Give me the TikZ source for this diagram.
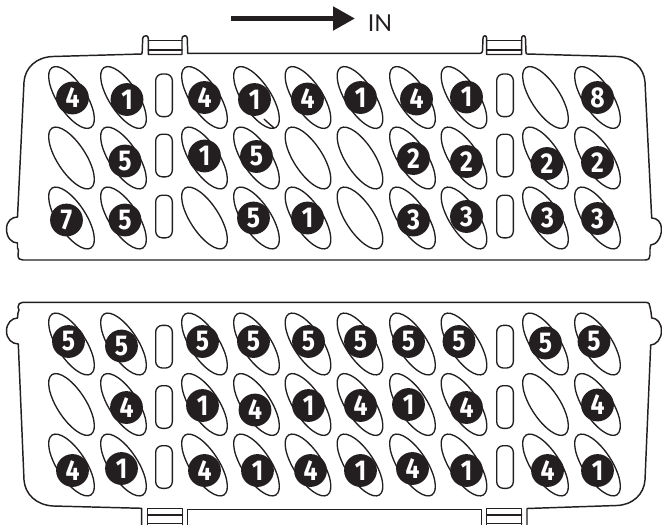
\documentclass[tikz,border=0pt]{standalone}
\usepackage{fontspec}
\setmainfont{Lato}
\newfontfamily\digitfont[FakeStretch=0.86]{Fira Sans}
\usetikzlibrary{shapes.geometric,arrows.meta}
\definecolor{ink}{HTML}{231F20}
\tikzset{
  outline/.style={draw=ink,line width=1.1pt,line join=round,line cap=round},
  hole/.style={shape=ellipse,draw=ink,line width=1pt,inner sep=0pt,minimum width=53.5pt,minimum height=21.5pt,rotate=-57},
  slot/.style={draw=ink,line width=1pt,rounded corners=5pt,inner sep=0pt,minimum width=12.5pt,minimum height=32pt},
  disc/.style={shape=circle,fill=ink,inner sep=0pt,minimum size=24.6pt,text=white,font=\digitfont\bfseries\fontsize{21.5}{22}\selectfont},
}
\begin{document}
\begin{tikzpicture}[x=.75pt,y=-.75pt]
\useasboundingbox (0,0) rectangle (662,525);
% panel outlines
\draw[outline] (141.7,54) -- (53,56.5) .. controls (36,57) and (25,68) .. (24,82) -- (17.5,217)
  .. controls (12,217) and (6.5,221) .. (6.5,229) .. controls (6.5,238) and (12,243) .. (17.5,243)
  -- (17.5,248) -- (18.5,250) -- (18,255) .. controls (18,259) and (20,260) .. (23,260)
  -- (645,260) .. controls (649,260) and (650,258) .. (650,255) -- (650,249) -- (650.7,245)
  .. controls (656,245) and (661.5,238) .. (661.5,229) .. controls (661.5,222) and (657,218) .. (651.7,218)
  -- (645,82) .. controls (644,68) and (633,57) .. (616.7,56.5) -- (527,54)
  .. controls (526.2,54) and (526,53) .. (526,52) -- (525.5,38.5) .. controls (525.5,36.5) and (524.5,35.7) .. (523.5,35.7)
  .. controls (522,35.7) and (521.7,37) .. (521.7,38.5) -- (521.7,54.5) -- (486.7,54.5) -- (486.7,38.5)
  .. controls (486.7,37) and (486,35.7) .. (485,35.7) .. controls (483.5,35.7) and (483,37) .. (483,38.5)
  -- (482.5,51) .. controls (482.5,53) and (481,53.3) .. (480,53.3) -- (187.7,53.3)
  -- (187.3,38.5) .. controls (187.3,36.5) and (186,35.7) .. (185,35.7) .. controls (183,35.7) and (182,37) .. (182,38.5)
  -- (182,54.5) -- (148.3,54.5) -- (148.3,38.5) .. controls (148.3,37) and (147.5,35.7) .. (146,35.7)
  .. controls (144,35.7) and (142.7,37) .. (142.7,38.5) -- (142.2,52) -- cycle;
\draw[outline] (148.3,40.5) -- (182,40.5) (148.3,50) -- (182,50);
\draw[outline] (486.7,40.5) -- (521.7,40.5) (486.7,50) -- (521.7,50);
\draw[outline] (141.7,525) -- (141.7,508.3) -- (53,506) .. controls (36,505) and (25,494) .. (24,480) -- (18.3,344)
  .. controls (12,344) and (6.5,339) .. (6.5,331) .. controls (6.5,323) and (12,318) .. (17.5,318)
  -- (18,313) -- (19,310) -- (18,307) .. controls (18,304) and (20,302.3) .. (23,302.3)
  -- (645,302.3) .. controls (649,302.3) and (650,304) .. (650,307) -- (651,312) -- (651.7,318)
  .. controls (657,318) and (661.5,323) .. (661.5,331) .. controls (661.5,339) and (656,345) .. (650.7,345)
  -- (645,480) .. controls (644,494) and (633,505) .. (616.7,505.5) -- (527,508.5) -- (527,525);
\draw[outline] (147.7,525) -- (147.7,508.3) -- (182.3,508.3) -- (182.3,525);
\draw[outline] (187.3,525) -- (187.3,509.3) -- (481.7,509.3) -- (481.7,525);
\draw[outline] (486.7,525) -- (486.7,508.3) -- (521.7,508.3) -- (521.7,525);
\draw[outline] (147.7,515) -- (182.3,515) (147.7,523.5) -- (182.3,523.5);
\draw[outline] (486.7,515) -- (521.7,515) (486.7,523.5) -- (521.7,523.5);
% holes
\foreach \hx [count=\i] in {71.5,123.5,204.5,256.5,308,360,412.5,464,545.5,597.5}
  \foreach \hy [count=\j] in {97.5,158,218,344,404.5,465}
    \node[hole] (hole-\i-\j) at (\hx,\hy) {};
% overshoot of the outline of one hole
\draw[outline,line width=1pt] (264,119) .. controls (268,123) and (272,126) .. (273.5,127.5) -- (272.5,128.5);
% slots
\foreach \sx [count=\i] in {164,505}
  \foreach \sy [count=\j] in {95.3,155.5,216.5,346.7,407,467}
    \node[slot] (slot-\i-\j) at (\sx,\sy) {};
% numbered discs
\foreach \dx/\dy/\dn [count=\k] in {
  72.5/98/4,127/99.5/1,204.5/97.5/4,254.5/99.5/1,307.5/99/4,360.5/97.5/1,416.5/99/4,466.5/97/1,597.5/97.5/8,
  125/161/5,204.5/156/1,256.5/156.5/5,413.5/158.5/2,466.5/161.5/2,547/163.5/2,597.5/162.5/2,
  66.5/220/7,125/220/5,253.5/218/5,307.5/218/1,413.5/220/3,466.5/216.5/3,547.5/218/3,597.5/218.5/3,
  68.5/341.5/5,121.5/346/5,202.5/341.5/5,253.5/341.5/5,308.5/341.5/5,360.5/341.5/5,408.5/341.5/5,459/341.5/5,545.5/343/5,594/341.5/5,
  126.5/407.5/4,202.5/405.5/1,255/410/4,308.5/405.5/1,360.5/405.5/4,408.5/404.5/1,466.5/407.5/4,597.5/405/4,
  72.5/470.5/4,121.5/468.5/1,204.5/470.5/4,257.5/470.5/1,310.5/470.5/4,360.5/470.5/1,412.5/468.5/4,466.5/470.5/1,547.5/470.5/4,597.5/470.5/1}
  \node[disc] (disc-\k) at (\dx,\dy) {\dn};
% direction arrow
\coordinate (arrowstart) at (231,18.5);
\coordinate (arrowend) at (355,18.5);
\draw[ink,line width=3.75pt,-{Triangle[length=16.5pt,width=17.25pt]}] (arrowstart) -- (arrowend);
\node[text=ink,font=\fontsize{17.5}{18}\selectfont,inner sep=0pt] (inlabel) at (380,23.5) {IN};
\end{tikzpicture}
\end{document}
